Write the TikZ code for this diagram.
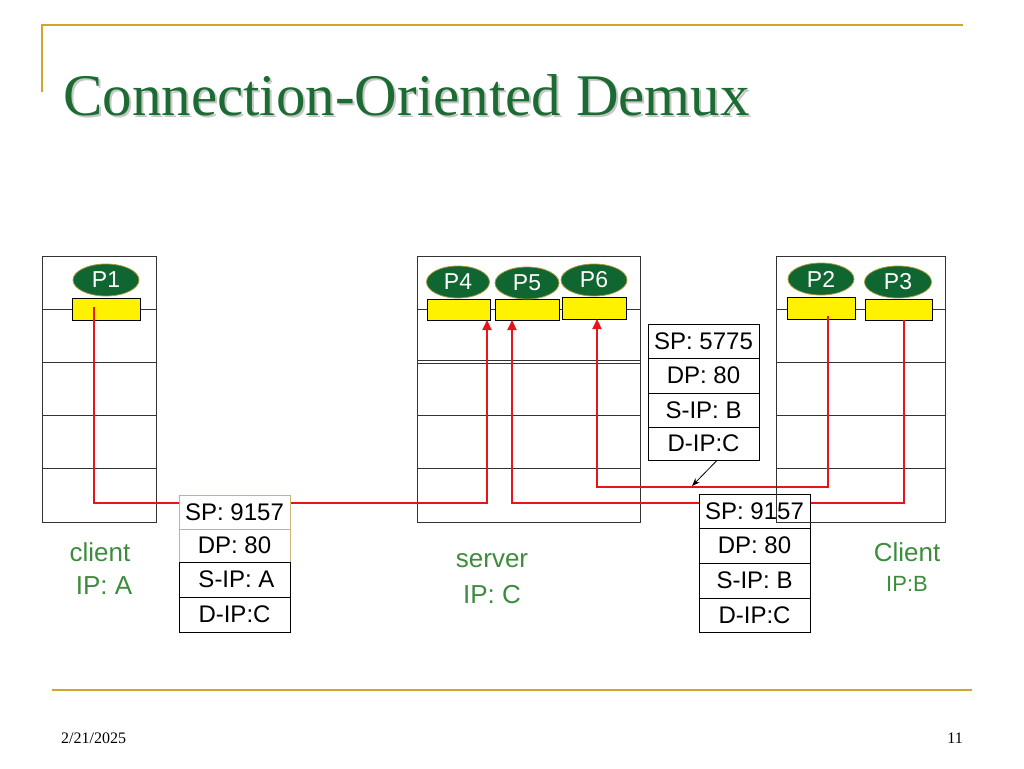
\documentclass[tikz,border=0pt]{standalone}
\usepackage{fontspec}
\setmainfont{Liberation Serif}
\setsansfont{Liberation Sans}
\usetikzlibrary{shapes.geometric,arrows.meta,calc}
\definecolor{gold}{HTML}{D2A62A}
\definecolor{titlegreen}{HTML}{1B6B33}
\definecolor{lblgreen}{HTML}{3D8C3D}
\definecolor{portgreen}{HTML}{0F6630}
\definecolor{portedge}{HTML}{A89A3A}
\definecolor{tanedge}{HTML}{C8B47A}
\definecolor{redl}{HTML}{E8141C}
\definecolor{hostedge}{HTML}{333333}
\begin{document}
\begin{tikzpicture}[x=1pt,y=-1pt,
  goldline/.style={draw=gold,line width=2pt},
  hostline/.style={draw=hostedge,line width=1pt},
  port/.style={ellipse,draw=portedge,line width=0.8pt,fill=portgreen,text=white,inner sep=0pt,
    minimum width=66pt,minimum height=32pt,font=\sffamily\fontsize{23}{23}\selectfont},
  sock/.style={rectangle,draw=black,line width=0.8pt,fill=yellow,inner sep=0pt,minimum width=67pt,minimum height=22pt},
  cell/.style={rectangle,draw=black,line width=0.8pt,fill=white,inner sep=0pt,minimum width=111pt,
    font=\sffamily\fontsize{24}{24}\selectfont},
  redline/.style={draw=redl,line width=2.2pt,-{Triangle[length=10pt,width=9pt]}},
  lbl/.style={text=lblgreen,inner sep=0pt,font=\sffamily\fontsize{26}{26}\selectfont},
  lblsmall/.style={text=lblgreen,inner sep=0pt,font=\sffamily\fontsize{22}{22}\selectfont},
  foot/.style={inner sep=0pt,font=\fontsize{16}{16}\selectfont},
  titlefont/.style={anchor=base west,inner sep=0pt,font=\fontsize{59}{59}\selectfont}
]
\useasboundingbox (0,0) rectangle (1024,768);

% frame lines
\coordinate (g1) at (42,92);
\coordinate (g2) at (42,25);
\coordinate (g3) at (963,25);
\draw[goldline] (g1) -- (g2) -- (g3);
\coordinate (b1) at (52,690);
\coordinate (b2) at (972,690);
\draw[goldline] (b1) -- (b2);

% title with soft shadow
\node[titlefont,text=black!22] (titleshadow) at (65,117) {Connection-Oriented Demux};
\node[titlefont,text=titlegreen] (title) at (63,115) {Connection-Oriented Demux};

% footer
\node[foot,anchor=base west] (date) at (61,743) {2/21/2025};
\node[foot,anchor=base east] (page) at (963,743) {11};

% host A
\draw[hostline] (42,256) rectangle (156,522);
\foreach \yy in {309,362,415,468} \draw[hostline] (42,\yy) -- (156,\yy);
% server
\draw[hostline] (417,256) rectangle (640,522);
\foreach \yy in {309,360,363,415,468} \draw[hostline] (417,\yy) -- (640,\yy);
% host B rows
\foreach \yy in {309,362,415,468} \draw[hostline] (776,\yy) -- (945,\yy);

% sockets
\node[sock,minimum width=68pt] (sA) at (106,309) {};
\node[sock,minimum width=63pt,minimum height=21pt] (s4) at (458.5,309.5) {};
\node[sock,minimum width=64pt,minimum height=21pt] (s5) at (527,309.5) {};
\node[sock,minimum width=64pt] (s6) at (594,308) {};
\node[sock,minimum width=68pt] (s2) at (821,308) {};
\node[sock,minimum height=21pt] (s3) at (898.5,309.5) {};

% ports
\node[port] (pA) at (106,280) {P1};
\node[port,minimum width=63pt] (p4) at (458,282) {P4};
\node[port,minimum width=64pt] (p5) at (527,283) {P5};
\node[port] (p6) at (594,280) {P6};
\node[port] (p2) at (821,279) {P2};
\node[port,minimum width=67pt] (p3) at (898,282) {P3};

% red connections
\coordinate (a1) at (94,307);
\coordinate (k1) at (487,503);
\coordinate (t4) at (487,320);
\draw[redline] (a1) |- (k1) -- (t4);

\coordinate (a3) at (904,320);
\coordinate (k2) at (512,503);
\coordinate (t5) at (512,320);
\draw[redline] (a3) |- (k2) -- (t5);

\coordinate (a2) at (828,316);
\coordinate (k3) at (597,487);
\coordinate (t6) at (597,319);
\draw[redline] (a2) |- (k3) -- (t6);

% packet A -> server
\node[cell,draw=tanedge,minimum height=34pt] (l1) at (234.5,512) {SP: 9157};
\node[cell,draw=tanedge,minimum height=33pt] (l2) at (234.5,545.5) {DP: 80};
\node[cell,minimum height=35pt] (l3) at (234.5,579.5) {\hspace{4pt}S-IP: A};
\node[cell,minimum height=35pt] (l4) at (234.5,614.5) {D-IP:C};

% packet B (5775) -> server
\node[cell,minimum height=34pt] (m1) at (703.5,341) {SP: 5775};
\node[cell,minimum height=35pt] (m2) at (703.5,375.5) {DP: 80};
\node[cell,minimum height=34pt] (m3) at (703.5,410) {S-IP: B};
\node[cell,minimum height=33pt] (m4) at (703.5,443.5) {D-IP:C};
\coordinate (arrT) at (692,486);
\draw[line width=0.8pt,-{Stealth[length=8pt,width=6pt]}] ($(m4.south)+(13.5,0)$) -- (arrT);

% packet B (9157) -> server
\node[cell,minimum height=34pt] (r1) at (754.5,511) {SP: 9157};
\node[cell,minimum height=35pt] (r2) at (754.5,545.5) {DP: 80};
\node[cell,minimum height=35pt] (r3) at (754.5,580.5) {S-IP: B};
\node[cell,minimum height=34pt] (r4) at (754.5,615) {D-IP:C};

% host B outline (drawn over the packet)
\draw[hostline] (776,256) rectangle (945,522);

% labels
\node[lbl] (cA1) at (100,552) {client};
\node[lbl] (cA2) at (104,586) {IP: A};
\node[lbl] (sv1) at (492,561) {server};
\node[lbl] (sv2) at (492,595) {IP: C};
\node[lbl] (cB1) at (907,552) {Client};
\node[lblsmall] (cB2) at (907,584) {IP:B};
\end{tikzpicture}
\end{document}
